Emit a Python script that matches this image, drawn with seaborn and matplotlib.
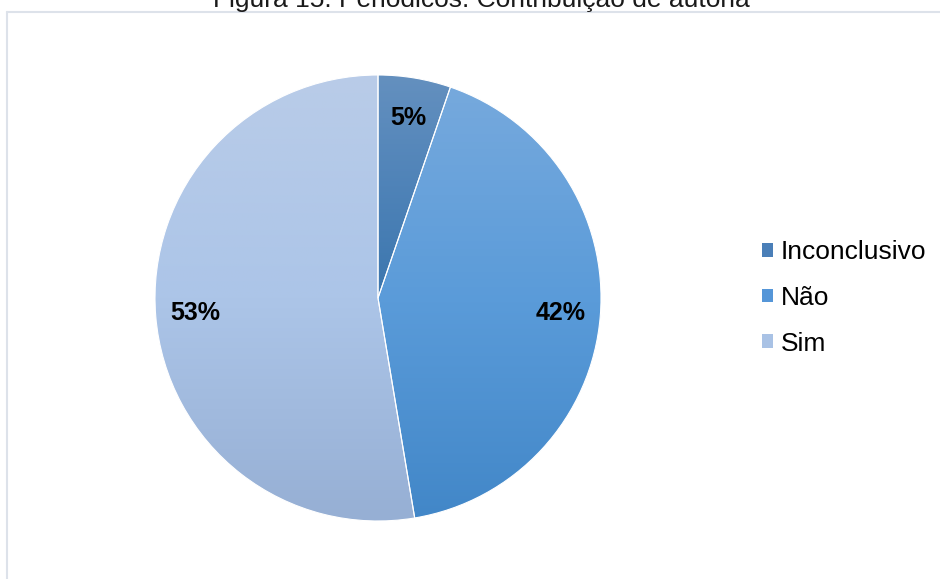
import numpy as np
import matplotlib.pyplot as plt
import seaborn as sns
from matplotlib.patches import Patch
from matplotlib.lines import Line2D

categories = ["Inconclusivo", "Não", "Sim"]
counts = [1, 8, 10]
title = "Figura 15: Periódicos: Contribuição de autoria"

# top / middle / bottom colours of each slice gradient
grad_colors = {
    "Inconclusivo": ["#6490bf", "#4f83b8", "#3b76ae"],
    "Não": ["#76a9dd", "#5a9bd9", "#4287c8"],
    "Sim": ["#b9cce8", "#acc5e8", "#96afd4"],
}
legend_colors = ["#4a7fb8", "#5596d8", "#a9c2e5"]

sns.set_theme(style="white")
plt.rcParams['font.family'] = ['Liberation Sans', 'DejaVu Sans']

W, H = 940, 579
fig = plt.figure(figsize=(W / 100, H / 100), dpi=100)
ax = fig.add_axes([155 / W, 1 - 521 / H, 446 / W, 446 / H])

wedges, _, autotexts = ax.pie(
    counts,
    startangle=90,
    counterclock=False,
    autopct="%.0f%%",
    pctdistance=0.82,
    radius=1,
    wedgeprops=dict(edgecolor="white", linewidth=0.8),
    textprops=dict(fontsize=18, fontweight="bold", color="black"),
)

# vertical gradient inside each slice
for w, cat in zip(wedges, categories):
    bb = w.get_path().get_extents()
    grad = np.array(sns.blend_palette(grad_colors[cat], n_colors=256))[:, :3]
    grad = grad.reshape(256, 1, 3)
    im = ax.imshow(grad, extent=(bb.x0, bb.x1, bb.y0, bb.y1), origin="upper",
                   aspect="auto", zorder=2, interpolation="bilinear")
    im.set_clip_path(w)
    w.set_facecolor("none")
    w.set_zorder(3)

for t in autotexts:
    t.set_zorder(5)

ax.set_xlim(-1, 1)
ax.set_ylim(-1, 1)
ax.set_aspect("equal")
ax.axis("off")

# light frame lines at left and top
fig.add_artist(Line2D([7.5 / W, 7.5 / W], [0, 1 - 11.5 / H], transform=fig.transFigure,
                      color="#dde2ea", lw=1.5))
fig.add_artist(Line2D([7.5 / W, 1], [1 - 11.5 / H, 1 - 11.5 / H], transform=fig.transFigure,
                      color="#dde2ea", lw=1.5))

fig.text(481 / W, 1 - 7.5 / H, title, ha="center", va="baseline", fontsize=19, color="#1a1a1a")

handles = [Patch(facecolor=c, edgecolor="none") for c in legend_colors]
leg = fig.legend(handles, categories, loc="center left", bbox_to_anchor=(762 / W, 1 - 298 / H),
                 frameon=False, fontsize=19, handlelength=0.42, handleheight=0.42,
                 handletextpad=0.3, labelspacing=0.82, borderpad=0, borderaxespad=0)
for t in leg.get_texts():
    t.set_color("black")

fig.savefig("out.png", dpi=100)
